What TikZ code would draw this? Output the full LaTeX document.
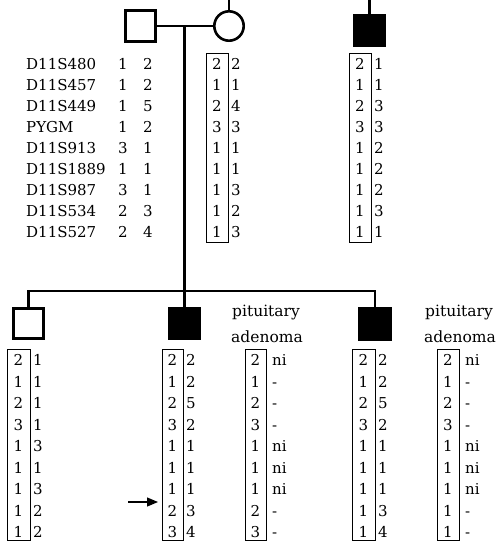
\documentclass[tikz,border=0pt]{standalone}
\usepackage{fontspec}
\setmainfont{DejaVu Serif}
\usetikzlibrary{arrows.meta}
\tikzset{
  ped/.style={line width=2.6pt},
  person/.style={draw, line width=2.6pt, minimum size=30.5pt, inner sep=0pt, shape=rectangle},
  hapbox/.style={draw, line width=1pt, inner sep=0pt},
  digit/.style={inner sep=0pt, anchor=base, font={\fontsize{15pt}{18pt}\selectfont}},
  digitw/.style={inner sep=0pt, anchor=base west, font={\fontsize{15pt}{18pt}\selectfont}},
  lbl/.style={inner sep=0pt, font={\fontsize{15.5pt}{18pt}\selectfont}},
}
% name, xl, xr, yt, yb, y0, dy, right-column x, list
\newcommand\haplo[9]{%
  \pgfmathsetmacro\hx{(#2+#3)/2}%
  \pgfmathsetmacro\hy{(#4+#5)/2}%
  \pgfmathsetmacro\hw{#3-#2}%
  \pgfmathsetmacro\hh{#5-#4}%
  \node[hapbox, minimum width=\hw pt, minimum height=\hh pt] (#1) at (\hx,\hy) {};
  \foreach \a/\b [count=\i] in {#9}{
    \pgfmathsetmacro\ry{#6+(\i-1)*#7+5.5}
    \node[digit] (#1-l\i) at (\hx,\ry) {\a};
    \node[digitw] (#1-r\i) at (#8,\ry) {\b};
  }
}
\begin{document}
\begin{tikzpicture}[x=1pt,y=-1pt]
\useasboundingbox (0,0) rectangle (496,542);
% persons
\node[person] (fa) at (140.5,26) {};
\node[person, shape=circle, minimum size=29.4pt] (mo) at (229,26) {};
\node[person, fill=black] (tr) at (369.5,30.5) {};
\node[person] (c1) at (28.5,323.5) {};
\node[person, fill=black] (c2) at (184.5,323.5) {};
\node[person, fill=black] (c3) at (375,324) {};
% lines
\coordinate (motop) at (229,0);
\coordinate (trtop) at (369.5,0);
\coordinate (mid) at (184.5,26);
\coordinate (sib) at (184.5,291);
\draw[ped] (mo.north) -- (motop);
\draw[ped] (tr.north) -- (trtop);
\draw[ped] (fa.east) -- (mo.west);
\draw[ped] (mid) -- (c2.north);
\draw[ped] (c1.north) |- (sib) -| (c3.north);
% marker table
\foreach \m/\a/\b [count=\i] in {D11S480/1/2, D11S457/1/2, D11S449/1/5, PYGM/1/2, D11S913/3/1, D11S1889/1/1, D11S987/3/1, D11S534/2/3, D11S527/2/4}{
  \pgfmathsetmacro\ry{64+(\i-1)*21+5.5}
  \node[digitw] (mk\i) at (26,\ry) {\m};
  \node[digit] (fa-a\i) at (123,\ry) {\a};
  \node[digit] (fa-b\i) at (148,\ry) {\b};
}
% haplotypes
\haplo{moh}{206}{228}{53}{242}{64}{21}{231}{2/2,1/1,2/4,3/3,1/1,1/1,1/3,1/2,1/3}
\haplo{trh}{349}{371}{53}{242}{64}{21}{374}{2/1,1/1,2/3,3/3,1/2,1/2,1/2,1/3,1/1}
\haplo{c1h}{7}{30}{349}{540}{360}{21.5}{33}{2/1,1/1,2/1,3/1,1/3,1/1,1/3,1/2,1/2}
\haplo{c2h}{162}{183}{349}{540}{360}{21.5}{186}{2/2,1/2,2/5,3/2,1/1,1/1,1/1,2/3,3/4}
\haplo{pah}{245}{266}{349}{540}{360}{21.5}{272}{2/ni,1/-,2/-,3/-,1/ni,1/ni,1/ni,2/-,3/-}
\haplo{c3h}{352}{375}{349}{540}{360}{21.5}{378}{2/2,1/2,2/5,3/2,1/1,1/1,1/1,1/3,1/4}
\haplo{pbh}{437}{459}{349}{540}{360}{21.5}{465}{2/ni,1/-,2/-,3/-,1/ni,1/ni,1/ni,1/-,1/-}
% labels
\node[lbl] (pa1) at (266,313) {pituitary};
\node[lbl] (pa2) at (267,337) {adenoma};
\node[lbl] (pb1) at (459,313) {pituitary};
\node[lbl] (pb2) at (460,337) {adenoma};
% arrow
\coordinate (arrt) at (128,502);
\coordinate (arrh) at (158,502);
\draw[line width=1.2pt, -{Triangle[length=11pt,width=9pt]}] (arrt) -- (arrh);
\end{tikzpicture}
\end{document}
